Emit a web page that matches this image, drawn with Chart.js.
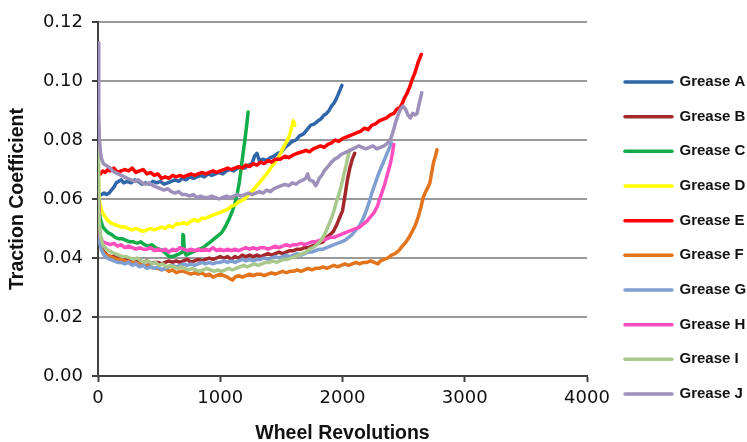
<!DOCTYPE html>
<html>
<head>
<meta charset="utf-8">
<script src="https://cdn.jsdelivr.net/npm/chart.js@4.4.1/dist/chart.umd.min.js"></script>
<style>
  html, body { margin: 0; padding: 0; background: #ffffff; }
  canvas { display: block; }
</style>
</head>
<body>
<canvas id="chart" width="747" height="442"></canvas>
<script>
// Traction coefficient vs. wheel revolutions, one series per grease.
// Each series: [wheel revolutions, traction coefficient]
const greaseA = [[30,0.0615],[50,0.062],[70,0.0615],[90,0.062],[110,0.063],[130,0.064],[150,0.0655],[170,0.066],[190,0.0665],[210,0.0655],[240,0.066],[270,0.0655],[300,0.0665],[330,0.066],[360,0.065],[390,0.0655],[420,0.065],[450,0.066],[480,0.0655],[510,0.066],[540,0.065],[570,0.0655],[600,0.066],[630,0.0665],[660,0.066],[690,0.067],[720,0.0665],[750,0.0675],[780,0.067],[810,0.0675],[840,0.068],[870,0.0675],[900,0.0685],[930,0.068],[960,0.0685],[990,0.069],[1020,0.0685],[1050,0.0695],[1080,0.070],[1110,0.0695],[1140,0.0705],[1170,0.071],[1200,0.0705],[1230,0.0715],[1260,0.072],[1280,0.0745],[1300,0.0755],[1320,0.073],[1350,0.0735],[1380,0.073],[1410,0.074],[1440,0.0745],[1470,0.0755],[1500,0.076],[1530,0.0775],[1560,0.0785],[1590,0.0795],[1620,0.080],[1650,0.0815],[1680,0.082],[1710,0.0835],[1740,0.085],[1770,0.0855],[1800,0.0865],[1820,0.087],[1850,0.0885],[1870,0.089],[1890,0.090],[1910,0.0915],[1930,0.0925],[1950,0.094],[1970,0.096],[1985,0.0975],[1995,0.0985]];
const greaseB = [[0,0.060],[6,0.051],[15,0.046],[30,0.0435],[50,0.042],[75,0.041],[100,0.0405],[130,0.0405],[160,0.040],[190,0.0405],[220,0.0395],[250,0.040],[280,0.039],[310,0.0395],[340,0.039],[370,0.0385],[400,0.039],[430,0.038],[460,0.0385],[490,0.0385],[520,0.038],[550,0.0385],[580,0.039],[610,0.0385],[640,0.039],[670,0.0385],[700,0.039],[730,0.0395],[760,0.0385],[790,0.039],[820,0.0395],[850,0.039],[880,0.0395],[910,0.040],[940,0.0395],[970,0.040],[1000,0.0405],[1030,0.040],[1060,0.0405],[1090,0.0395],[1120,0.0405],[1150,0.040],[1180,0.041],[1210,0.0405],[1240,0.041],[1270,0.0405],[1300,0.041],[1330,0.0405],[1360,0.041],[1390,0.0415],[1420,0.041],[1450,0.0415],[1480,0.042],[1510,0.0415],[1540,0.042],[1570,0.0425],[1600,0.0425],[1630,0.043],[1660,0.043],[1690,0.0435],[1720,0.0435],[1750,0.044],[1780,0.0445],[1810,0.045],[1840,0.0455],[1870,0.047],[1900,0.048],[1925,0.049],[1950,0.051],[1975,0.0535],[2000,0.056],[2020,0.061],[2040,0.0665],[2060,0.0705],[2080,0.0735],[2100,0.0755]];
const greaseC = [[0,0.062],[8,0.057],[20,0.053],[40,0.0505],[60,0.0495],[85,0.0485],[110,0.048],[140,0.047],[170,0.0465],[200,0.0465],[230,0.046],[260,0.0455],[290,0.0455],[320,0.045],[350,0.0455],[380,0.0445],[410,0.044],[440,0.0445],[470,0.0435],[500,0.043],[530,0.0425],[555,0.0415],[580,0.0405],[610,0.0405],[640,0.041],[670,0.0415],[690,0.042],[694,0.048],[700,0.0475],[706,0.0425],[720,0.041],[745,0.0415],[770,0.042],[800,0.0425],[830,0.043],[860,0.0435],[890,0.0445],[920,0.0455],[950,0.0465],[980,0.0475],[1010,0.0485],[1040,0.0505],[1070,0.053],[1100,0.056],[1120,0.0585],[1140,0.062],[1155,0.0655],[1170,0.070],[1185,0.075],[1200,0.0795],[1215,0.0845],[1228,0.0895]];
const greaseD = [[0,0.066],[6,0.062],[15,0.0585],[30,0.056],[50,0.0545],[75,0.053],[100,0.052],[130,0.0515],[160,0.051],[190,0.0505],[220,0.0505],[250,0.050],[280,0.0495],[310,0.050],[340,0.0495],[370,0.049],[400,0.0495],[430,0.050],[460,0.0495],[490,0.050],[520,0.0505],[550,0.050],[580,0.051],[610,0.0505],[640,0.0515],[670,0.0515],[700,0.052],[730,0.0515],[760,0.0525],[790,0.053],[820,0.0525],[850,0.0535],[880,0.0535],[910,0.054],[940,0.0545],[970,0.055],[1000,0.0555],[1030,0.056],[1060,0.0565],[1090,0.0575],[1120,0.058],[1150,0.059],[1180,0.0595],[1210,0.0605],[1240,0.062],[1270,0.063],[1300,0.0645],[1330,0.066],[1360,0.0675],[1390,0.069],[1420,0.071],[1450,0.0725],[1480,0.0745],[1505,0.0765],[1530,0.0785],[1550,0.080],[1570,0.082],[1585,0.0845],[1598,0.0865],[1610,0.085]];
const greaseE = [[0,0.069],[20,0.0685],[40,0.0695],[60,0.069],[80,0.070],[100,0.0695],[130,0.0705],[160,0.069],[190,0.0695],[220,0.070],[250,0.0695],[280,0.0705],[310,0.069],[340,0.0695],[370,0.070],[400,0.0685],[430,0.069],[460,0.068],[490,0.0685],[520,0.067],[550,0.0675],[580,0.067],[610,0.068],[640,0.0675],[670,0.068],[700,0.0675],[730,0.068],[760,0.0685],[790,0.068],[820,0.0685],[850,0.069],[880,0.0685],[910,0.069],[940,0.0695],[970,0.069],[1000,0.0695],[1030,0.070],[1060,0.0705],[1090,0.070],[1120,0.0705],[1150,0.071],[1180,0.0705],[1210,0.0715],[1240,0.071],[1270,0.072],[1300,0.0715],[1330,0.0725],[1360,0.072],[1390,0.073],[1420,0.0725],[1450,0.0735],[1490,0.0735],[1530,0.0745],[1560,0.074],[1600,0.075],[1630,0.0755],[1670,0.076],[1700,0.0765],[1730,0.076],[1760,0.077],[1790,0.0775],[1820,0.078],[1850,0.0775],[1880,0.0785],[1910,0.079],[1940,0.080],[1970,0.0795],[2000,0.0805],[2030,0.081],[2060,0.0815],[2090,0.082],[2120,0.0825],[2150,0.083],[2180,0.084],[2210,0.0835],[2240,0.085],[2270,0.0855],[2300,0.0865],[2330,0.087],[2360,0.0875],[2390,0.0885],[2420,0.089],[2445,0.0905],[2470,0.091],[2490,0.0925],[2510,0.0945],[2530,0.096],[2550,0.098],[2570,0.1005],[2590,0.1025],[2605,0.1045],[2620,0.1065],[2635,0.108],[2645,0.109]];
const greaseF = [[0,0.060],[6,0.051],[15,0.046],[30,0.043],[50,0.0415],[75,0.041],[100,0.0405],[130,0.040],[160,0.0395],[190,0.0395],[220,0.039],[250,0.0385],[280,0.0385],[310,0.038],[340,0.038],[370,0.0375],[400,0.0375],[430,0.037],[460,0.0365],[490,0.0365],[520,0.036],[550,0.0365],[580,0.0355],[610,0.036],[640,0.035],[670,0.0355],[700,0.0355],[730,0.035],[760,0.0345],[790,0.035],[820,0.0345],[850,0.035],[880,0.034],[910,0.0345],[940,0.0335],[970,0.034],[1000,0.0345],[1030,0.034],[1060,0.0335],[1080,0.033],[1100,0.0325],[1120,0.0335],[1150,0.034],[1180,0.0335],[1210,0.034],[1240,0.0345],[1270,0.034],[1300,0.0345],[1330,0.0345],[1360,0.034],[1390,0.0345],[1420,0.035],[1450,0.0345],[1480,0.035],[1510,0.0355],[1540,0.035],[1570,0.0355],[1600,0.0355],[1630,0.036],[1660,0.0355],[1690,0.036],[1720,0.0365],[1750,0.036],[1780,0.0365],[1810,0.0365],[1840,0.037],[1870,0.0365],[1900,0.037],[1930,0.0375],[1960,0.037],[1990,0.0375],[2020,0.038],[2050,0.0375],[2080,0.038],[2110,0.0385],[2140,0.038],[2170,0.0385],[2200,0.0385],[2230,0.039],[2260,0.0385],[2290,0.038],[2310,0.039],[2340,0.0395],[2370,0.040],[2400,0.041],[2430,0.0415],[2460,0.0425],[2490,0.044],[2520,0.0455],[2545,0.047],[2570,0.049],[2595,0.051],[2620,0.054],[2640,0.057],[2660,0.0605],[2680,0.0625],[2700,0.064],[2715,0.0655],[2730,0.069],[2745,0.0725],[2760,0.0745],[2773,0.0767]];
const greaseG = [[0,0.060],[6,0.050],[15,0.045],[30,0.0425],[50,0.041],[75,0.040],[100,0.0395],[130,0.039],[160,0.0385],[190,0.0385],[220,0.038],[250,0.0385],[280,0.0375],[310,0.038],[340,0.037],[370,0.0375],[400,0.0365],[430,0.037],[460,0.0365],[490,0.037],[520,0.036],[550,0.0365],[580,0.037],[610,0.0375],[640,0.037],[670,0.0375],[700,0.038],[730,0.0375],[760,0.038],[790,0.0375],[820,0.038],[850,0.0385],[880,0.038],[910,0.0385],[940,0.038],[970,0.0385],[1000,0.0385],[1030,0.039],[1060,0.0385],[1090,0.039],[1120,0.0385],[1150,0.039],[1180,0.0395],[1210,0.039],[1240,0.0395],[1270,0.039],[1300,0.0395],[1330,0.0395],[1360,0.040],[1390,0.0395],[1420,0.040],[1450,0.0405],[1480,0.040],[1510,0.0405],[1540,0.041],[1570,0.0405],[1600,0.041],[1630,0.0415],[1660,0.041],[1690,0.0415],[1720,0.042],[1750,0.042],[1780,0.0425],[1810,0.043],[1840,0.043],[1870,0.0435],[1900,0.044],[1930,0.0445],[1960,0.045],[1990,0.0455],[2020,0.046],[2050,0.047],[2080,0.048],[2110,0.0495],[2140,0.051],[2165,0.053],[2190,0.0555],[2215,0.0585],[2240,0.062],[2265,0.065],[2290,0.068],[2315,0.0705],[2340,0.073],[2365,0.0755],[2385,0.0775],[2400,0.079]];
const greaseH = [[0,0.058],[8,0.051],[20,0.047],[40,0.0455],[70,0.045],[100,0.0445],[130,0.045],[160,0.044],[190,0.0445],[220,0.0435],[250,0.044],[280,0.0435],[310,0.043],[340,0.0435],[370,0.043],[400,0.043],[430,0.0435],[460,0.0425],[490,0.043],[520,0.0425],[550,0.043],[580,0.042],[610,0.043],[640,0.0425],[670,0.0435],[700,0.043],[730,0.0425],[760,0.043],[790,0.0425],[820,0.043],[850,0.0425],[880,0.043],[910,0.0425],[940,0.0435],[970,0.0425],[1000,0.043],[1030,0.0425],[1060,0.043],[1090,0.0425],[1120,0.043],[1150,0.0425],[1180,0.043],[1210,0.0435],[1240,0.043],[1270,0.0435],[1300,0.043],[1330,0.0435],[1360,0.0435],[1390,0.043],[1420,0.0435],[1450,0.044],[1480,0.0435],[1510,0.044],[1540,0.0445],[1570,0.044],[1600,0.0445],[1630,0.0445],[1660,0.045],[1690,0.0445],[1720,0.045],[1750,0.0455],[1780,0.0455],[1810,0.046],[1840,0.046],[1870,0.0465],[1900,0.047],[1930,0.047],[1960,0.0475],[1990,0.048],[2020,0.0485],[2050,0.049],[2080,0.0495],[2110,0.050],[2140,0.0505],[2170,0.0515],[2200,0.0525],[2230,0.054],[2260,0.0555],[2285,0.0575],[2305,0.060],[2325,0.0625],[2345,0.065],[2365,0.068],[2385,0.071],[2400,0.0735],[2412,0.0765],[2420,0.0785]];
const greaseI = [[0,0.078],[3,0.066],[8,0.056],[15,0.050],[25,0.0465],[40,0.0445],[60,0.0435],[85,0.0425],[110,0.042],[140,0.0415],[170,0.041],[200,0.0405],[230,0.0405],[260,0.040],[290,0.0395],[320,0.040],[350,0.039],[380,0.0385],[410,0.039],[440,0.038],[470,0.0385],[500,0.0375],[530,0.038],[560,0.037],[590,0.0375],[620,0.037],[650,0.0365],[680,0.037],[710,0.0365],[740,0.036],[770,0.0365],[800,0.036],[830,0.0355],[860,0.036],[890,0.0365],[920,0.036],[950,0.0355],[980,0.036],[1010,0.0355],[1040,0.036],[1070,0.0365],[1100,0.036],[1130,0.0365],[1160,0.037],[1190,0.0375],[1220,0.037],[1250,0.0375],[1280,0.038],[1310,0.0375],[1340,0.038],[1370,0.0385],[1400,0.0385],[1430,0.039],[1460,0.0385],[1490,0.039],[1520,0.0395],[1550,0.0395],[1580,0.040],[1610,0.0405],[1640,0.041],[1670,0.0415],[1700,0.042],[1730,0.043],[1760,0.0435],[1790,0.0445],[1815,0.0455],[1840,0.047],[1865,0.049],[1890,0.0515],[1910,0.0535],[1930,0.056],[1950,0.059],[1970,0.0615],[1990,0.0645],[2010,0.068],[2030,0.0715],[2045,0.0745],[2060,0.0765]];
const greaseJ = [[0,0.113],[4,0.100],[8,0.088],[12,0.080],[20,0.076],[30,0.0735],[45,0.072],[60,0.0715],[80,0.071],[100,0.0705],[120,0.0695],[140,0.069],[165,0.0685],[190,0.068],[215,0.0675],[240,0.067],[270,0.0665],[300,0.066],[330,0.0665],[360,0.0655],[390,0.065],[420,0.0655],[450,0.0645],[480,0.064],[510,0.0635],[540,0.063],[570,0.0635],[600,0.0625],[630,0.062],[660,0.0625],[690,0.0615],[720,0.0615],[750,0.061],[780,0.0615],[810,0.0605],[840,0.061],[870,0.0605],[900,0.0605],[930,0.061],[960,0.0605],[990,0.060],[1020,0.0605],[1050,0.061],[1080,0.0605],[1110,0.061],[1140,0.0615],[1170,0.061],[1200,0.0615],[1230,0.062],[1260,0.0615],[1290,0.062],[1320,0.0625],[1350,0.062],[1380,0.063],[1410,0.0625],[1440,0.0635],[1470,0.064],[1500,0.0645],[1530,0.065],[1560,0.0645],[1590,0.0655],[1620,0.065],[1650,0.066],[1680,0.0665],[1700,0.067],[1715,0.0685],[1730,0.0665],[1760,0.066],[1780,0.0645],[1795,0.0655],[1810,0.067],[1830,0.068],[1850,0.0695],[1870,0.0705],[1890,0.0715],[1910,0.0725],[1935,0.0735],[1960,0.074],[1985,0.075],[2010,0.0755],[2035,0.076],[2060,0.0765],[2085,0.077],[2110,0.0775],[2135,0.078],[2160,0.0775],[2190,0.077],[2220,0.0775],[2250,0.078],[2280,0.077],[2310,0.0775],[2340,0.078],[2370,0.079],[2395,0.0805],[2415,0.083],[2435,0.086],[2455,0.0885],[2475,0.0905],[2495,0.0915],[2515,0.0905],[2535,0.0885],[2555,0.0875],[2575,0.089],[2595,0.0885],[2610,0.089],[2625,0.092],[2640,0.0945],[2648,0.096]];

const seriesNames = ['Grease A','Grease B','Grease C','Grease D','Grease E','Grease F','Grease G','Grease H','Grease I','Grease J'];
const seriesColors = ['#2f66a8','#a3282b','#12ad4a','#ffff00','#ff0000','#e1741c','#7f9fd2','#ff4fbf','#a9c98c','#9d90ba'];
const seriesData = [greaseA, greaseB, greaseC, greaseD, greaseE, greaseF, greaseG, greaseH, greaseI, greaseJ];

const xTickValues = [0, 1000, 2000, 3000, 4000];
const yTickValues = [0, 0.02, 0.04, 0.06, 0.08, 0.10, 0.12];

const AXIS_DARK = '#404040';
const GRID_GREY = '#9a9a9a';

const datasets = seriesData.map((pts, i) => ({
  label: seriesNames[i],
  data: pts.map(p => ({ x: p[0], y: p[1] })),
  borderColor: seriesColors[i],
  backgroundColor: seriesColors[i],
  borderWidth: 3.5,
  pointRadius: 0,
  pointHoverRadius: 0,
  pointBorderWidth: 3.5,
  borderJoinStyle: 'round',
  borderCapStyle: 'round',
  tension: 0,
  fill: false,
  yAxisID: 'y',
  xAxisID: 'x',
  order: -i            // later series drawn on top
}));

const defaultLabels = Chart.defaults.plugins.legend.labels.generateLabels;

new Chart(document.getElementById('chart'), {
  type: 'line',
  data: { datasets },
  options: {
    responsive: false,
    animation: false,
    devicePixelRatio: 1,
    layout: { padding: { top: 22, left: 0, right: 0, bottom: 0 } },
    plugins: {
      tooltip: { enabled: false },
      legend: {
        position: 'right',
        align: 'start',
        maxWidth: 141.67,
        title: { display: true, text: '', font: { size: 12, lineHeight: 1 }, padding: { top: 20.8, bottom: 0 } },
        labels: {
          usePointStyle: true,
          pointStyle: 'line',
          pointStyleWidth: 47,
          padding: 19.67,
          color: '#111111',
          font: { family: '"Liberation Sans", Arial, sans-serif', size: 15, weight: 'bold' },
          generateLabels(chart) {
            return defaultLabels(chart)
              .map(item => Object.assign(item, { lineWidth: 3.5, lineCap: 'round', strokeStyle: seriesColors[item.datasetIndex] }))
              .sort((a, b) => a.datasetIndex - b.datasetIndex);
          }
        }
      }
    },
    scales: {
      x: {
        type: 'linear',
        position: 'bottom',
        min: 0,
        max: 4000,
        afterBuildTicks(scale) { scale.ticks = xTickValues.map(v => ({ value: v })); },
        afterFit(scale) { scale.height = 66; },
        ticks: {
          padding: 6,
          color: '#111111',
          font: { family: '"DejaVu Sans", sans-serif', size: 18 },
          maxRotation: 0,
          callback: v => String(v)
        },
        grid: { display: true, drawOnChartArea: false, drawTicks: true, tickLength: 6, tickColor: AXIS_DARK, tickWidth: 2 },
        border: { display: true, color: AXIS_DARK, width: 2 },
        title: {
          display: true,
          text: 'Wheel Revolutions',
          color: '#111111',
          font: { family: '"Liberation Sans", Arial, sans-serif', size: 19.5, weight: 'bold', lineHeight: 1 },
          padding: { top: 0, bottom: -1.5 }
        }
      },
      y: {
        type: 'linear',
        position: 'left',
        min: 0,
        max: 0.12,
        afterBuildTicks(scale) { scale.ticks = yTickValues.map(v => ({ value: v })); },
        afterFit(scale) { scale.width = 98; },
        ticks: {
          padding: 9,
          color: '#111111',
          font: { family: '"DejaVu Sans", sans-serif', size: 18 },
          callback: v => Number(v).toFixed(2)
        },
        grid: {
          display: true,
          drawTicks: true,
          tickLength: 6,
          tickColor: AXIS_DARK,
          tickWidth: 2,
          lineWidth: 2,
          color: ctx => (ctx.tick && ctx.tick.value === 0) ? AXIS_DARK : GRID_GREY
        },
        border: { display: true, color: AXIS_DARK, width: 2 },
        title: {
          display: true,
          text: 'Traction Coefficient',
          color: '#111111',
          font: { family: '"Liberation Sans", Arial, sans-serif', size: 19.5, weight: 'bold', lineHeight: 1 },
          padding: { top: 8, bottom: 0 }
        }
      },
      gap: {
        type: 'linear',
        position: 'right',
        display: true,
        afterFit(scale) { scale.width = 18.33; },
        ticks: { display: false },
        grid: { display: false, drawTicks: false },
        border: { display: false }
      }
    }
  }
});
</script>
</body>
</html>
